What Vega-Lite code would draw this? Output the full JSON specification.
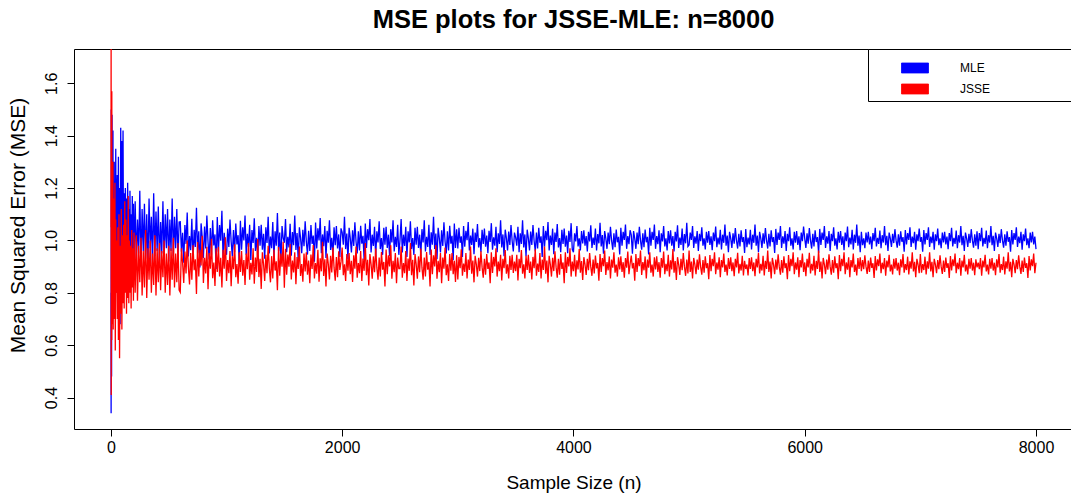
{
"$schema":"https://vega.github.io/schema/vega-lite/v6.json",
"width":999,"height":380,
"autosize":{"type":"none"},
"padding":{"left":74,"top":49,"right":0,"bottom":66},
"background":"white",
"title":{"text":"MSE plots for JSSE-MLE: n=8000","font":"Liberation Sans","fontSize":25.5,"fontWeight":"bold","color":"black","anchor":"middle","frame":"group","baseline":"alphabetic","offset":-5},
"config":{"view":{"stroke":"black","strokeWidth":1},"font":"Liberation Sans"},
"data":{"values":[
{"n":1,"MLE":0.80,"JSSE":1.05},{"n":2,"MLE":0.34,"JSSE":1.75},{"n":3,"MLE":1.50,"JSSE":0.41},{"n":4,"MLE":0.66,"JSSE":1.51},{"n":5,"MLE":1.20,"JSSE":0.72},{"n":6,"MLE":0.48,"JSSE":1.15},{"n":7,"MLE":1.05,"JSSE":0.62},{"n":8,"MLE":1.30,"JSSE":1.57},{"n":9,"MLE":0.72,"JSSE":0.80},{"n":10,"MLE":1.48,"JSSE":1.20},
{"n":12,"MLE":0.85,"JSSE":0.68},{"n":14,"MLE":1.28,"JSSE":1.10},{"n":16,"MLE":0.95,"JSSE":0.75},{"n":18,"MLE":1.42,"JSSE":1.30},{"n":20,"MLE":0.70,"JSSE":0.66},{"n":23,"MLE":1.22,"JSSE":1.16},{"n":26,"MLE":0.88,"JSSE":0.70},{"n":29,"MLE":1.30,"JSSE":1.05},{"n":32,"MLE":0.75,"JSSE":0.78},{"n":35,"MLE":1.18,"JSSE":1.22},{"n":38,"MLE":0.92,"JSSE":0.58},{"n":42,"MLE":1.35,"JSSE":1.08},{"n":46,"MLE":0.80,"JSSE":0.80},{"n":50,"MLE":1.15,"JSSE":1.00},
{"n":55,"MLE":1.25,"JSSE":0.70},{"n":60,"MLE":0.85,"JSSE":1.05},{"n":65,"MLE":1.32,"JSSE":0.62},{"n":70,"MLE":0.78,"JSSE":1.10},{"n":75,"MLE":1.20,"JSSE":0.55},{"n":80,"MLE":0.68,"JSSE":0.98},{"n":85,"MLE":1.43,"JSSE":0.72},{"n":90,"MLE":0.82,"JSSE":1.12},{"n":95,"MLE":1.38,"JSSE":0.66},{"n":100,"MLE":0.90,"JSSE":1.02},
{"n":105,"MLE":1.42,"JSSE":0.76},{"n":110,"MLE":0.88,"JSSE":1.06},{"n":115,"MLE":1.18,"JSSE":0.74},{"n":120,"MLE":0.92,"JSSE":1.15},{"n":125,"MLE":1.20,"JSSE":0.80},{"n":130,"MLE":0.86,"JSSE":1.08},{"n":135,"MLE":1.16,"JSSE":0.72},{"n":140,"MLE":0.95,"JSSE":1.02},{"n":145,"MLE":1.22,"JSSE":0.78},{"n":150,"MLE":0.90,"JSSE":1.17},
{"n":155,"MLE":1.12,"JSSE":0.76},{"n":160,"MLE":0.87,"JSSE":1.00},{"n":165,"MLE":1.19,"JSSE":0.80},{"n":170,"MLE":0.93,"JSSE":0.98},{"n":175,"MLE":1.10,"JSSE":0.74},{"n":180,"MLE":0.89,"JSSE":1.04},{"n":185,"MLE":1.17,"JSSE":0.82},{"n":190,"MLE":0.95,"JSSE":0.97},{"n":195,"MLE":1.14,"JSSE":0.77},{"n":200,"MLE":0.91,"JSSE":1.03},
{"n":210,"MLE":1.15,"JSSE":0.80},{"n":220,"MLE":0.92,"JSSE":1.02},{"n":230,"MLE":1.08,"JSSE":0.77},{"n":240,"MLE":0.95,"JSSE":0.98},{"n":250,"MLE":1.19,"JSSE":0.84},{"n":260,"MLE":0.90,"JSSE":1.01},{"n":270,"MLE":1.12,"JSSE":0.79},{"n":280,"MLE":0.96,"JSSE":0.96},{"n":290,"MLE":1.14,"JSSE":0.82},{"n":300,"MLE":0.93,"JSSE":1.04},
{"n":310,"MLE":1.10,"JSSE":0.78},{"n":320,"MLE":0.89,"JSSE":0.97},{"n":330,"MLE":1.16,"JSSE":0.85},{"n":340,"MLE":0.97,"JSSE":1.00},{"n":350,"MLE":1.09,"JSSE":0.80},{"n":360,"MLE":0.91,"JSSE":0.95},{"n":370,"MLE":1.18,"JSSE":0.83},{"n":380,"MLE":0.94,"JSSE":1.02},{"n":390,"MLE":1.11,"JSSE":0.79},{"n":400,"MLE":0.96,"JSSE":0.97},
{"n":410,"MLE":1.13,"JSSE":0.84},{"n":420,"MLE":0.92,"JSSE":0.99},{"n":430,"MLE":1.07,"JSSE":0.81},{"n":440,"MLE":0.95,"JSSE":0.96},{"n":450,"MLE":1.15,"JSSE":0.86},{"n":460,"MLE":0.93,"JSSE":1.00},{"n":470,"MLE":1.10,"JSSE":0.80},{"n":480,"MLE":0.97,"JSSE":0.95},{"n":490,"MLE":1.12,"JSSE":0.83},{"n":500,"MLE":0.92,"JSSE":0.98},
{"n":510,"MLE":1.08,"JSSE":0.79},{"n":520,"MLE":0.96,"JSSE":0.97},{"n":530,"MLE":1.16,"JSSE":0.85},{"n":540,"MLE":0.94,"JSSE":1.01},{"n":550,"MLE":1.09,"JSSE":0.82},{"n":560,"MLE":0.97,"JSSE":0.95},{"n":570,"MLE":1.12,"JSSE":0.84},{"n":580,"MLE":0.93,"JSSE":0.99},{"n":590,"MLE":1.07,"JSSE":0.81},
{"n":600,"MLE":1.071,"JSSE":0.802},{"n":610,"MLE":0.957,"JSSE":0.970},{"n":620,"MLE":1.029,"JSSE":0.916},{"n":630,"MLE":0.915,"JSSE":0.838},{"n":640,"MLE":1.059,"JSSE":0.958},{"n":650,"MLE":0.987,"JSSE":0.874},{"n":660,"MLE":1.107,"JSSE":1.000},{"n":670,"MLE":0.939,"JSSE":0.898},{"n":680,"MLE":1.017,"JSSE":0.832},{"n":690,"MLE":0.963,"JSSE":0.952},
{"n":700,"MLE":1.083,"JSSE":0.850},{"n":710,"MLE":0.921,"JSSE":0.982},{"n":720,"MLE":1.041,"JSSE":0.886},{"n":730,"MLE":0.975,"JSSE":0.928},{"n":740,"MLE":1.125,"JSSE":0.796},{"n":750,"MLE":0.951,"JSSE":0.994},{"n":760,"MLE":1.035,"JSSE":0.862},{"n":770,"MLE":0.897,"JSSE":0.964},{"n":780,"MLE":1.065,"JSSE":0.904},{"n":790,"MLE":1.011,"JSSE":1.018},
{"n":800,"MLE":0.933,"JSSE":0.838},{"n":810,"MLE":1.053,"JSSE":0.934},{"n":820,"MLE":0.969,"JSSE":0.874},{"n":830,"MLE":1.095,"JSSE":0.976},{"n":840,"MLE":0.993,"JSSE":0.814},{"n":850,"MLE":0.927,"JSSE":0.952},{"n":860,"MLE":1.047,"JSSE":0.892},{"n":870,"MLE":0.945,"JSSE":1.006},{"n":880,"MLE":1.077,"JSSE":0.856},{"n":890,"MLE":0.981,"JSSE":0.916},
{"n":900,"MLE":1.023,"JSSE":0.826},{"n":910,"MLE":0.891,"JSSE":0.970},{"n":920,"MLE":1.089,"JSSE":0.880},{"n":930,"MLE":0.957,"JSSE":0.976},{"n":940,"MLE":1.059,"JSSE":0.862},{"n":950,"MLE":0.999,"JSSE":0.934},{"n":960,"MLE":1.113,"JSSE":0.820},{"n":970,"MLE":0.933,"JSSE":0.964},{"n":980,"MLE":1.029,"JSSE":0.892},{"n":990,"MLE":0.969,"JSSE":1.012},
{"n":1000,"MLE":0.945,"JSSE":0.845},{"n":1010,"MLE":1.045,"JSSE":0.925},{"n":1020,"MLE":0.975,"JSSE":0.875},{"n":1030,"MLE":1.080,"JSSE":0.960},{"n":1040,"MLE":0.995,"JSSE":0.825},{"n":1050,"MLE":0.940,"JSSE":0.940},{"n":1060,"MLE":1.040,"JSSE":0.890},{"n":1070,"MLE":0.955,"JSSE":0.985},{"n":1080,"MLE":1.065,"JSSE":0.860},{"n":1090,"MLE":0.985,"JSSE":0.910},
{"n":1100,"MLE":1.020,"JSSE":0.835},{"n":1110,"MLE":0.910,"JSSE":0.955},{"n":1120,"MLE":1.075,"JSSE":0.880},{"n":1130,"MLE":0.965,"JSSE":0.960},{"n":1140,"MLE":1.050,"JSSE":0.865},{"n":1150,"MLE":1.000,"JSSE":0.925},{"n":1160,"MLE":1.095,"JSSE":0.830},{"n":1170,"MLE":0.945,"JSSE":0.950},{"n":1180,"MLE":1.025,"JSSE":0.890},{"n":1190,"MLE":0.975,"JSSE":0.990},
{"n":1200,"MLE":1.060,"JSSE":0.850},{"n":1210,"MLE":0.925,"JSSE":0.915},{"n":1220,"MLE":1.040,"JSSE":0.870},{"n":1230,"MLE":0.990,"JSSE":0.970},{"n":1240,"MLE":1.085,"JSSE":0.835},{"n":1250,"MLE":0.960,"JSSE":0.935},{"n":1260,"MLE":1.010,"JSSE":0.880},{"n":1270,"MLE":0.935,"JSSE":1.005},{"n":1280,"MLE":1.055,"JSSE":0.860},{"n":1290,"MLE":0.980,"JSSE":0.930},
{"n":1300,"MLE":1.060,"JSSE":0.815},{"n":1310,"MLE":0.965,"JSSE":0.955},{"n":1320,"MLE":1.025,"JSSE":0.910},{"n":1330,"MLE":0.930,"JSSE":0.845},{"n":1340,"MLE":1.050,"JSSE":0.945},{"n":1350,"MLE":0.990,"JSSE":0.875},{"n":1360,"MLE":1.090,"JSSE":0.980},{"n":1370,"MLE":0.950,"JSSE":0.895},{"n":1380,"MLE":1.015,"JSSE":0.840},{"n":1390,"MLE":0.970,"JSSE":0.940},
{"n":1400,"MLE":1.070,"JSSE":0.855},{"n":1410,"MLE":0.935,"JSSE":0.965},{"n":1420,"MLE":1.035,"JSSE":0.885},{"n":1430,"MLE":0.980,"JSSE":0.920},{"n":1440,"MLE":1.105,"JSSE":0.810},{"n":1450,"MLE":0.960,"JSSE":0.975},{"n":1460,"MLE":1.030,"JSSE":0.865},{"n":1470,"MLE":0.915,"JSSE":0.950},{"n":1480,"MLE":1.055,"JSSE":0.900},{"n":1490,"MLE":1.010,"JSSE":0.995},
{"n":1500,"MLE":0.991,"JSSE":0.819},{"n":1510,"MLE":1.082,"JSSE":0.968},{"n":1520,"MLE":0.955,"JSSE":0.869},{"n":1530,"MLE":1.014,"JSSE":0.946},{"n":1540,"MLE":0.973,"JSSE":0.900},{"n":1550,"MLE":1.064,"JSSE":0.986},{"n":1560,"MLE":0.942,"JSSE":0.851},{"n":1570,"MLE":1.032,"JSSE":0.923},{"n":1580,"MLE":0.982,"JSSE":0.878},{"n":1590,"MLE":1.095,"JSSE":0.955},
{"n":1600,"MLE":0.964,"JSSE":0.833},{"n":1610,"MLE":1.028,"JSSE":0.937},{"n":1620,"MLE":0.924,"JSSE":0.891},{"n":1630,"MLE":1.050,"JSSE":0.977},{"n":1640,"MLE":1.010,"JSSE":0.864},{"n":1650,"MLE":0.951,"JSSE":0.910},{"n":1660,"MLE":1.041,"JSSE":0.842},{"n":1670,"MLE":0.978,"JSSE":0.950},{"n":1680,"MLE":1.073,"JSSE":0.882},{"n":1690,"MLE":0.996,"JSSE":0.955},
{"n":1700,"MLE":0.946,"JSSE":0.869},{"n":1710,"MLE":1.037,"JSSE":0.923},{"n":1720,"MLE":0.960,"JSSE":0.837},{"n":1730,"MLE":1.059,"JSSE":0.946},{"n":1740,"MLE":0.987,"JSSE":0.891},{"n":1750,"MLE":1.019,"JSSE":0.982},{"n":1760,"MLE":0.919,"JSSE":0.855},{"n":1770,"MLE":1.068,"JSSE":0.914},{"n":1780,"MLE":0.969,"JSSE":0.873},{"n":1790,"MLE":1.046,"JSSE":0.964},
{"n":1800,"MLE":1.000,"JSSE":0.842},{"n":1810,"MLE":1.086,"JSSE":0.932},{"n":1820,"MLE":0.951,"JSSE":0.882},{"n":1830,"MLE":1.023,"JSSE":0.995},{"n":1840,"MLE":0.978,"JSSE":0.864},{"n":1850,"MLE":1.055,"JSSE":0.928},{"n":1860,"MLE":0.933,"JSSE":0.824},{"n":1870,"MLE":1.037,"JSSE":0.950},{"n":1880,"MLE":0.991,"JSSE":0.910},{"n":1890,"MLE":1.077,"JSSE":0.851},
{"n":1900,"MLE":0.964,"JSSE":0.941},{"n":1910,"MLE":1.010,"JSSE":0.878},{"n":1920,"MLE":0.942,"JSSE":0.973},{"n":1930,"MLE":1.050,"JSSE":0.896},{"n":1940,"MLE":0.982,"JSSE":0.846},{"n":1950,"MLE":1.055,"JSSE":0.937},{"n":1960,"MLE":0.969,"JSSE":0.860},{"n":1970,"MLE":1.023,"JSSE":0.959},{"n":1980,"MLE":0.937,"JSSE":0.887},{"n":1990,"MLE":1.046,"JSSE":0.919},
{"n":2000,"MLE":1.031,"JSSE":0.973},{"n":2010,"MLE":0.984,"JSSE":0.867},{"n":2020,"MLE":1.090,"JSSE":0.909},{"n":2030,"MLE":0.967,"JSSE":0.845},{"n":2040,"MLE":1.026,"JSSE":0.948},{"n":2050,"MLE":0.928,"JSSE":0.884},{"n":2060,"MLE":1.048,"JSSE":0.952},{"n":2070,"MLE":1.009,"JSSE":0.871},{"n":2080,"MLE":0.954,"JSSE":0.922},{"n":2090,"MLE":1.039,"JSSE":0.841},
{"n":2100,"MLE":0.979,"JSSE":0.943},{"n":2110,"MLE":1.069,"JSSE":0.892},{"n":2120,"MLE":0.996,"JSSE":0.977},{"n":2130,"MLE":0.950,"JSSE":0.858},{"n":2140,"MLE":1.035,"JSSE":0.914},{"n":2150,"MLE":0.962,"JSSE":0.875},{"n":2160,"MLE":1.056,"JSSE":0.960},{"n":2170,"MLE":0.988,"JSSE":0.845},{"n":2180,"MLE":1.018,"JSSE":0.931},{"n":2190,"MLE":0.924,"JSSE":0.884},
{"n":2200,"MLE":1.065,"JSSE":0.990},{"n":2210,"MLE":0.971,"JSSE":0.867},{"n":2220,"MLE":1.043,"JSSE":0.926},{"n":2230,"MLE":1.001,"JSSE":0.828},{"n":2240,"MLE":1.082,"JSSE":0.948},{"n":2250,"MLE":0.954,"JSSE":0.909},{"n":2260,"MLE":1.022,"JSSE":0.854},{"n":2270,"MLE":0.979,"JSSE":0.939},{"n":2280,"MLE":1.052,"JSSE":0.879},{"n":2290,"MLE":0.937,"JSSE":0.969},
{"n":2300,"MLE":1.035,"JSSE":0.896},{"n":2310,"MLE":0.992,"JSSE":0.850},{"n":2320,"MLE":1.073,"JSSE":0.935},{"n":2330,"MLE":0.967,"JSSE":0.862},{"n":2340,"MLE":1.009,"JSSE":0.956},{"n":2350,"MLE":0.945,"JSSE":0.888},{"n":2360,"MLE":1.048,"JSSE":0.918},{"n":2370,"MLE":0.984,"JSSE":0.824},{"n":2380,"MLE":1.052,"JSSE":0.965},{"n":2390,"MLE":0.971,"JSSE":0.871},
{"n":2400,"MLE":1.022,"JSSE":0.943},{"n":2410,"MLE":0.941,"JSSE":0.901},{"n":2420,"MLE":1.043,"JSSE":0.982},{"n":2430,"MLE":0.992,"JSSE":0.854},{"n":2440,"MLE":1.077,"JSSE":0.922},{"n":2450,"MLE":0.958,"JSSE":0.879},{"n":2460,"MLE":1.014,"JSSE":0.952},{"n":2470,"MLE":0.975,"JSSE":0.837},{"n":2480,"MLE":1.060,"JSSE":0.935},{"n":2490,"MLE":0.945,"JSSE":0.892},
{"n":2500,"MLE":1.001,"JSSE":0.892},{"n":2510,"MLE":1.082,"JSSE":0.977},{"n":2520,"MLE":0.954,"JSSE":0.858},{"n":2530,"MLE":1.022,"JSSE":0.914},{"n":2540,"MLE":0.979,"JSSE":0.875},{"n":2550,"MLE":1.052,"JSSE":0.960},{"n":2560,"MLE":0.937,"JSSE":0.845},{"n":2570,"MLE":1.035,"JSSE":0.931},{"n":2580,"MLE":0.992,"JSSE":0.884},{"n":2590,"MLE":1.073,"JSSE":0.990},
{"n":2600,"MLE":0.967,"JSSE":0.867},{"n":2610,"MLE":1.009,"JSSE":0.926},{"n":2620,"MLE":0.945,"JSSE":0.828},{"n":2630,"MLE":1.048,"JSSE":0.948},{"n":2640,"MLE":0.984,"JSSE":0.909},{"n":2650,"MLE":1.052,"JSSE":0.854},{"n":2660,"MLE":0.971,"JSSE":0.939},{"n":2670,"MLE":1.022,"JSSE":0.879},{"n":2680,"MLE":0.941,"JSSE":0.969},{"n":2690,"MLE":1.043,"JSSE":0.896},
{"n":2700,"MLE":0.992,"JSSE":0.850},{"n":2710,"MLE":1.077,"JSSE":0.935},{"n":2720,"MLE":0.958,"JSSE":0.862},{"n":2730,"MLE":1.014,"JSSE":0.956},{"n":2740,"MLE":0.975,"JSSE":0.888},{"n":2750,"MLE":1.060,"JSSE":0.918},{"n":2760,"MLE":0.945,"JSSE":0.824},{"n":2770,"MLE":1.031,"JSSE":0.965},{"n":2780,"MLE":0.984,"JSSE":0.871},{"n":2790,"MLE":1.090,"JSSE":0.943},
{"n":2800,"MLE":0.967,"JSSE":0.901},{"n":2810,"MLE":1.026,"JSSE":0.982},{"n":2820,"MLE":0.928,"JSSE":0.854},{"n":2830,"MLE":1.048,"JSSE":0.922},{"n":2840,"MLE":1.009,"JSSE":0.879},{"n":2850,"MLE":0.954,"JSSE":0.952},{"n":2860,"MLE":1.039,"JSSE":0.837},{"n":2870,"MLE":0.979,"JSSE":0.935},{"n":2880,"MLE":1.069,"JSSE":0.892},{"n":2890,"MLE":0.996,"JSSE":0.973},
{"n":2900,"MLE":0.950,"JSSE":0.867},{"n":2910,"MLE":1.035,"JSSE":0.909},{"n":2920,"MLE":0.962,"JSSE":0.845},{"n":2930,"MLE":1.056,"JSSE":0.948},{"n":2940,"MLE":0.988,"JSSE":0.884},{"n":2950,"MLE":1.018,"JSSE":0.952},{"n":2960,"MLE":0.924,"JSSE":0.871},{"n":2970,"MLE":1.065,"JSSE":0.922},{"n":2980,"MLE":0.971,"JSSE":0.841},{"n":2990,"MLE":1.043,"JSSE":0.943},
{"n":3000,"MLE":0.969,"JSSE":0.851},{"n":3010,"MLE":1.048,"JSSE":0.937},{"n":3020,"MLE":0.991,"JSSE":0.894},{"n":3030,"MLE":1.016,"JSSE":0.966},{"n":3040,"MLE":0.937,"JSSE":0.865},{"n":3050,"MLE":1.055,"JSSE":0.912},{"n":3060,"MLE":0.976,"JSSE":0.880},{"n":3070,"MLE":1.037,"JSSE":0.952},{"n":3080,"MLE":1.001,"JSSE":0.855},{"n":3090,"MLE":1.070,"JSSE":0.927},
{"n":3100,"MLE":0.962,"JSSE":0.887},{"n":3110,"MLE":1.019,"JSSE":0.977},{"n":3120,"MLE":0.983,"JSSE":0.873},{"n":3130,"MLE":1.045,"JSSE":0.923},{"n":3140,"MLE":0.947,"JSSE":0.840},{"n":3150,"MLE":1.030,"JSSE":0.941},{"n":3160,"MLE":0.994,"JSSE":0.909},{"n":3170,"MLE":1.063,"JSSE":0.862},{"n":3180,"MLE":0.973,"JSSE":0.934},{"n":3190,"MLE":1.009,"JSSE":0.883},
{"n":3200,"MLE":0.955,"JSSE":0.959},{"n":3210,"MLE":1.041,"JSSE":0.898},{"n":3220,"MLE":0.987,"JSSE":0.858},{"n":3230,"MLE":1.045,"JSSE":0.930},{"n":3240,"MLE":0.976,"JSSE":0.869},{"n":3250,"MLE":1.019,"JSSE":0.948},{"n":3260,"MLE":0.951,"JSSE":0.891},{"n":3270,"MLE":1.037,"JSSE":0.916},{"n":3280,"MLE":0.994,"JSSE":0.837},{"n":3290,"MLE":1.066,"JSSE":0.955},
{"n":3300,"MLE":0.965,"JSSE":0.876},{"n":3310,"MLE":1.012,"JSSE":0.937},{"n":3320,"MLE":0.980,"JSSE":0.901},{"n":3330,"MLE":1.052,"JSSE":0.970},{"n":3340,"MLE":0.955,"JSSE":0.862},{"n":3350,"MLE":1.027,"JSSE":0.919},{"n":3360,"MLE":0.987,"JSSE":0.883},{"n":3370,"MLE":1.077,"JSSE":0.945},{"n":3380,"MLE":0.973,"JSSE":0.847},{"n":3390,"MLE":1.023,"JSSE":0.930},
{"n":3400,"MLE":0.940,"JSSE":0.894},{"n":3410,"MLE":1.041,"JSSE":0.963},{"n":3420,"MLE":1.009,"JSSE":0.873},{"n":3430,"MLE":0.962,"JSSE":0.909},{"n":3440,"MLE":1.034,"JSSE":0.855},{"n":3450,"MLE":0.983,"JSSE":0.941},{"n":3460,"MLE":1.059,"JSSE":0.887},{"n":3470,"MLE":0.998,"JSSE":0.945},{"n":3480,"MLE":0.958,"JSSE":0.876},{"n":3490,"MLE":1.030,"JSSE":0.919},
{"n":3500,"MLE":1.012,"JSSE":0.883},{"n":3510,"MLE":0.980,"JSSE":0.945},{"n":3520,"MLE":1.052,"JSSE":0.847},{"n":3530,"MLE":0.955,"JSSE":0.930},{"n":3540,"MLE":1.027,"JSSE":0.894},{"n":3550,"MLE":0.987,"JSSE":0.963},{"n":3560,"MLE":1.077,"JSSE":0.873},{"n":3570,"MLE":0.973,"JSSE":0.909},{"n":3580,"MLE":1.023,"JSSE":0.855},{"n":3590,"MLE":0.940,"JSSE":0.941},
{"n":3600,"MLE":1.041,"JSSE":0.887},{"n":3610,"MLE":1.009,"JSSE":0.945},{"n":3620,"MLE":0.962,"JSSE":0.876},{"n":3630,"MLE":1.034,"JSSE":0.919},{"n":3640,"MLE":0.983,"JSSE":0.851},{"n":3650,"MLE":1.059,"JSSE":0.937},{"n":3660,"MLE":0.998,"JSSE":0.894},{"n":3670,"MLE":0.958,"JSSE":0.966},{"n":3680,"MLE":1.030,"JSSE":0.865},{"n":3690,"MLE":0.969,"JSSE":0.912},
{"n":3700,"MLE":1.048,"JSSE":0.880},{"n":3710,"MLE":0.991,"JSSE":0.952},{"n":3720,"MLE":1.016,"JSSE":0.855},{"n":3730,"MLE":0.937,"JSSE":0.927},{"n":3740,"MLE":1.055,"JSSE":0.887},{"n":3750,"MLE":0.976,"JSSE":0.977},{"n":3760,"MLE":1.037,"JSSE":0.873},{"n":3770,"MLE":1.001,"JSSE":0.923},{"n":3780,"MLE":1.070,"JSSE":0.840},{"n":3790,"MLE":0.962,"JSSE":0.941},
{"n":3800,"MLE":1.019,"JSSE":0.909},{"n":3810,"MLE":0.983,"JSSE":0.862},{"n":3820,"MLE":1.045,"JSSE":0.934},{"n":3830,"MLE":0.947,"JSSE":0.883},{"n":3840,"MLE":1.030,"JSSE":0.959},{"n":3850,"MLE":0.994,"JSSE":0.898},{"n":3860,"MLE":1.063,"JSSE":0.858},{"n":3870,"MLE":0.973,"JSSE":0.930},{"n":3880,"MLE":1.009,"JSSE":0.869},{"n":3890,"MLE":0.955,"JSSE":0.948},
{"n":3900,"MLE":1.041,"JSSE":0.891},{"n":3910,"MLE":0.987,"JSSE":0.916},{"n":3920,"MLE":1.045,"JSSE":0.837},{"n":3930,"MLE":0.976,"JSSE":0.955},{"n":3940,"MLE":1.019,"JSSE":0.876},{"n":3950,"MLE":0.951,"JSSE":0.937},{"n":3960,"MLE":1.037,"JSSE":0.901},{"n":3970,"MLE":0.994,"JSSE":0.970},{"n":3980,"MLE":1.066,"JSSE":0.862},{"n":3990,"MLE":0.965,"JSSE":0.919},
{"n":4000,"MLE":0.955,"JSSE":0.883},{"n":4010,"MLE":1.027,"JSSE":0.945},{"n":4020,"MLE":0.996,"JSSE":0.862},{"n":4030,"MLE":1.055,"JSSE":0.924},{"n":4040,"MLE":0.977,"JSSE":0.889},{"n":4050,"MLE":1.008,"JSSE":0.967},{"n":4060,"MLE":0.962,"JSSE":0.877},{"n":4070,"MLE":1.036,"JSSE":0.921},{"n":4080,"MLE":0.989,"JSSE":0.849},{"n":4090,"MLE":1.039,"JSSE":0.936},
{"n":4100,"MLE":0.980,"JSSE":0.908},{"n":4110,"MLE":1.017,"JSSE":0.868},{"n":4120,"MLE":0.958,"JSSE":0.930},{"n":4130,"MLE":1.033,"JSSE":0.886},{"n":4140,"MLE":0.996,"JSSE":0.952},{"n":4150,"MLE":1.058,"JSSE":0.899},{"n":4160,"MLE":0.971,"JSSE":0.865},{"n":4170,"MLE":1.011,"JSSE":0.927},{"n":4180,"MLE":0.983,"JSSE":0.874},{"n":4190,"MLE":1.045,"JSSE":0.942},
{"n":4200,"MLE":0.962,"JSSE":0.893},{"n":4210,"MLE":1.024,"JSSE":0.914},{"n":4220,"MLE":0.989,"JSSE":0.846},{"n":4230,"MLE":1.067,"JSSE":0.948},{"n":4240,"MLE":0.977,"JSSE":0.880},{"n":4250,"MLE":1.021,"JSSE":0.933},{"n":4260,"MLE":0.949,"JSSE":0.902},{"n":4270,"MLE":1.036,"JSSE":0.961},{"n":4280,"MLE":1.008,"JSSE":0.868},{"n":4290,"MLE":0.968,"JSSE":0.917},
{"n":4300,"MLE":1.030,"JSSE":0.886},{"n":4310,"MLE":0.986,"JSSE":0.939},{"n":4320,"MLE":1.052,"JSSE":0.855},{"n":4330,"MLE":0.999,"JSSE":0.927},{"n":4340,"MLE":0.965,"JSSE":0.896},{"n":4350,"MLE":1.027,"JSSE":0.955},{"n":4360,"MLE":0.974,"JSSE":0.877},{"n":4370,"MLE":1.042,"JSSE":0.908},{"n":4380,"MLE":0.993,"JSSE":0.862},{"n":4390,"MLE":1.014,"JSSE":0.936},
{"n":4400,"MLE":0.946,"JSSE":0.889},{"n":4410,"MLE":1.048,"JSSE":0.939},{"n":4420,"MLE":0.980,"JSSE":0.880},{"n":4430,"MLE":1.033,"JSSE":0.917},{"n":4440,"MLE":1.002,"JSSE":0.858},{"n":4450,"MLE":1.061,"JSSE":0.933},{"n":4460,"MLE":0.968,"JSSE":0.896},{"n":4470,"MLE":1.017,"JSSE":0.958},{"n":4480,"MLE":0.986,"JSSE":0.871},{"n":4490,"MLE":1.039,"JSSE":0.911},
{"n":4500,"MLE":1.021,"JSSE":0.942},{"n":4510,"MLE":0.949,"JSSE":0.893},{"n":4520,"MLE":1.036,"JSSE":0.914},{"n":4530,"MLE":1.008,"JSSE":0.846},{"n":4540,"MLE":0.968,"JSSE":0.948},{"n":4550,"MLE":1.030,"JSSE":0.880},{"n":4560,"MLE":0.986,"JSSE":0.933},{"n":4570,"MLE":1.052,"JSSE":0.902},{"n":4580,"MLE":0.999,"JSSE":0.961},{"n":4590,"MLE":0.965,"JSSE":0.868},
{"n":4600,"MLE":1.027,"JSSE":0.917},{"n":4610,"MLE":0.974,"JSSE":0.886},{"n":4620,"MLE":1.042,"JSSE":0.939},{"n":4630,"MLE":0.993,"JSSE":0.855},{"n":4640,"MLE":1.014,"JSSE":0.927},{"n":4650,"MLE":0.946,"JSSE":0.896},{"n":4660,"MLE":1.048,"JSSE":0.955},{"n":4670,"MLE":0.980,"JSSE":0.877},{"n":4680,"MLE":1.033,"JSSE":0.908},{"n":4690,"MLE":1.002,"JSSE":0.862},
{"n":4700,"MLE":1.061,"JSSE":0.936},{"n":4710,"MLE":0.968,"JSSE":0.889},{"n":4720,"MLE":1.017,"JSSE":0.939},{"n":4730,"MLE":0.986,"JSSE":0.880},{"n":4740,"MLE":1.039,"JSSE":0.917},{"n":4750,"MLE":0.955,"JSSE":0.858},{"n":4760,"MLE":1.027,"JSSE":0.933},{"n":4770,"MLE":0.996,"JSSE":0.896},{"n":4780,"MLE":1.055,"JSSE":0.958},{"n":4790,"MLE":0.977,"JSSE":0.871},
{"n":4800,"MLE":1.008,"JSSE":0.911},{"n":4810,"MLE":0.962,"JSSE":0.883},{"n":4820,"MLE":1.036,"JSSE":0.945},{"n":4830,"MLE":0.989,"JSSE":0.862},{"n":4840,"MLE":1.039,"JSSE":0.924},{"n":4850,"MLE":0.980,"JSSE":0.889},{"n":4860,"MLE":1.017,"JSSE":0.967},{"n":4870,"MLE":0.958,"JSSE":0.877},{"n":4880,"MLE":1.033,"JSSE":0.921},{"n":4890,"MLE":0.996,"JSSE":0.849},
{"n":4900,"MLE":1.058,"JSSE":0.936},{"n":4910,"MLE":0.971,"JSSE":0.908},{"n":4920,"MLE":1.011,"JSSE":0.868},{"n":4930,"MLE":0.983,"JSSE":0.930},{"n":4940,"MLE":1.045,"JSSE":0.886},{"n":4950,"MLE":0.962,"JSSE":0.952},{"n":4960,"MLE":1.024,"JSSE":0.899},{"n":4970,"MLE":0.989,"JSSE":0.865},{"n":4980,"MLE":1.067,"JSSE":0.927},{"n":4990,"MLE":0.977,"JSSE":0.874},
{"n":5000,"MLE":0.983,"JSSE":0.961},{"n":5010,"MLE":1.030,"JSSE":0.880},{"n":5020,"MLE":1.002,"JSSE":0.919},{"n":5030,"MLE":1.055,"JSSE":0.855},{"n":5040,"MLE":0.971,"JSSE":0.933},{"n":5050,"MLE":1.016,"JSSE":0.908},{"n":5060,"MLE":0.988,"JSSE":0.871},{"n":5070,"MLE":1.036,"JSSE":0.927},{"n":5080,"MLE":0.960,"JSSE":0.888},{"n":5090,"MLE":1.025,"JSSE":0.947},
{"n":5100,"MLE":0.997,"JSSE":0.899},{"n":5110,"MLE":1.050,"JSSE":0.869},{"n":5120,"MLE":0.980,"JSSE":0.925},{"n":5130,"MLE":1.008,"JSSE":0.877},{"n":5140,"MLE":0.966,"JSSE":0.939},{"n":5150,"MLE":1.033,"JSSE":0.894},{"n":5160,"MLE":0.991,"JSSE":0.913},{"n":5170,"MLE":1.036,"JSSE":0.852},{"n":5180,"MLE":0.983,"JSSE":0.944},{"n":5190,"MLE":1.016,"JSSE":0.883},
{"n":5200,"MLE":0.963,"JSSE":0.930},{"n":5210,"MLE":1.030,"JSSE":0.902},{"n":5220,"MLE":0.997,"JSSE":0.955},{"n":5230,"MLE":1.053,"JSSE":0.871},{"n":5240,"MLE":0.974,"JSSE":0.916},{"n":5250,"MLE":1.011,"JSSE":0.888},{"n":5260,"MLE":0.985,"JSSE":0.936},{"n":5270,"MLE":1.041,"JSSE":0.860},{"n":5280,"MLE":0.966,"JSSE":0.925},{"n":5290,"MLE":1.022,"JSSE":0.897},
{"n":5300,"MLE":0.991,"JSSE":0.950},{"n":5310,"MLE":1.061,"JSSE":0.880},{"n":5320,"MLE":0.980,"JSSE":0.908},{"n":5330,"MLE":1.019,"JSSE":0.866},{"n":5340,"MLE":0.955,"JSSE":0.933},{"n":5350,"MLE":1.033,"JSSE":0.891},{"n":5360,"MLE":1.008,"JSSE":0.936},{"n":5370,"MLE":0.971,"JSSE":0.883},{"n":5380,"MLE":1.027,"JSSE":0.916},{"n":5390,"MLE":0.988,"JSSE":0.863},
{"n":5400,"MLE":1.047,"JSSE":0.930},{"n":5410,"MLE":0.999,"JSSE":0.897},{"n":5420,"MLE":0.969,"JSSE":0.953},{"n":5430,"MLE":1.025,"JSSE":0.874},{"n":5440,"MLE":0.977,"JSSE":0.911},{"n":5450,"MLE":1.039,"JSSE":0.885},{"n":5460,"MLE":0.994,"JSSE":0.941},{"n":5470,"MLE":1.013,"JSSE":0.866},{"n":5480,"MLE":0.952,"JSSE":0.922},{"n":5490,"MLE":1.044,"JSSE":0.891},
{"n":5500,"MLE":0.974,"JSSE":0.908},{"n":5510,"MLE":1.011,"JSSE":0.866},{"n":5520,"MLE":0.985,"JSSE":0.933},{"n":5530,"MLE":1.041,"JSSE":0.891},{"n":5540,"MLE":0.966,"JSSE":0.936},{"n":5550,"MLE":1.022,"JSSE":0.883},{"n":5560,"MLE":0.991,"JSSE":0.916},{"n":5570,"MLE":1.061,"JSSE":0.863},{"n":5580,"MLE":0.980,"JSSE":0.930},{"n":5590,"MLE":1.019,"JSSE":0.897},
{"n":5600,"MLE":0.955,"JSSE":0.953},{"n":5610,"MLE":1.033,"JSSE":0.874},{"n":5620,"MLE":1.008,"JSSE":0.911},{"n":5630,"MLE":0.971,"JSSE":0.885},{"n":5640,"MLE":1.027,"JSSE":0.941},{"n":5650,"MLE":0.988,"JSSE":0.866},{"n":5660,"MLE":1.047,"JSSE":0.922},{"n":5670,"MLE":0.999,"JSSE":0.891},{"n":5680,"MLE":0.969,"JSSE":0.961},{"n":5690,"MLE":1.025,"JSSE":0.880},
{"n":5700,"MLE":0.977,"JSSE":0.919},{"n":5710,"MLE":1.039,"JSSE":0.855},{"n":5720,"MLE":0.994,"JSSE":0.933},{"n":5730,"MLE":1.013,"JSSE":0.908},{"n":5740,"MLE":0.952,"JSSE":0.871},{"n":5750,"MLE":1.044,"JSSE":0.927},{"n":5760,"MLE":0.983,"JSSE":0.888},{"n":5770,"MLE":1.030,"JSSE":0.947},{"n":5780,"MLE":1.002,"JSSE":0.899},{"n":5790,"MLE":1.055,"JSSE":0.869},
{"n":5800,"MLE":0.971,"JSSE":0.925},{"n":5810,"MLE":1.016,"JSSE":0.877},{"n":5820,"MLE":0.988,"JSSE":0.939},{"n":5830,"MLE":1.036,"JSSE":0.894},{"n":5840,"MLE":0.960,"JSSE":0.913},{"n":5850,"MLE":1.025,"JSSE":0.852},{"n":5860,"MLE":0.997,"JSSE":0.944},{"n":5870,"MLE":1.050,"JSSE":0.883},{"n":5880,"MLE":0.980,"JSSE":0.930},{"n":5890,"MLE":1.008,"JSSE":0.902},
{"n":5900,"MLE":0.966,"JSSE":0.955},{"n":5910,"MLE":1.033,"JSSE":0.871},{"n":5920,"MLE":0.991,"JSSE":0.916},{"n":5930,"MLE":1.036,"JSSE":0.888},{"n":5940,"MLE":0.983,"JSSE":0.936},{"n":5950,"MLE":1.016,"JSSE":0.860},{"n":5960,"MLE":0.963,"JSSE":0.925},{"n":5970,"MLE":1.030,"JSSE":0.897},{"n":5980,"MLE":0.997,"JSSE":0.950},{"n":5990,"MLE":1.053,"JSSE":0.880},
{"n":6000,"MLE":1.008,"JSSE":0.916},{"n":6010,"MLE":0.971,"JSSE":0.863},{"n":6020,"MLE":1.027,"JSSE":0.930},{"n":6030,"MLE":0.988,"JSSE":0.897},{"n":6040,"MLE":1.047,"JSSE":0.953},{"n":6050,"MLE":0.999,"JSSE":0.874},{"n":6060,"MLE":0.969,"JSSE":0.911},{"n":6070,"MLE":1.025,"JSSE":0.885},{"n":6080,"MLE":0.977,"JSSE":0.941},{"n":6090,"MLE":1.039,"JSSE":0.866},
{"n":6100,"MLE":0.994,"JSSE":0.922},{"n":6110,"MLE":1.013,"JSSE":0.891},{"n":6120,"MLE":0.952,"JSSE":0.961},{"n":6130,"MLE":1.044,"JSSE":0.880},{"n":6140,"MLE":0.983,"JSSE":0.919},{"n":6150,"MLE":1.030,"JSSE":0.855},{"n":6160,"MLE":1.002,"JSSE":0.933},{"n":6170,"MLE":1.055,"JSSE":0.908},{"n":6180,"MLE":0.971,"JSSE":0.871},{"n":6190,"MLE":1.016,"JSSE":0.927},
{"n":6200,"MLE":0.988,"JSSE":0.888},{"n":6210,"MLE":1.036,"JSSE":0.947},{"n":6220,"MLE":0.960,"JSSE":0.899},{"n":6230,"MLE":1.025,"JSSE":0.869},{"n":6240,"MLE":0.997,"JSSE":0.925},{"n":6250,"MLE":1.050,"JSSE":0.877},{"n":6260,"MLE":0.980,"JSSE":0.939},{"n":6270,"MLE":1.008,"JSSE":0.894},{"n":6280,"MLE":0.966,"JSSE":0.913},{"n":6290,"MLE":1.033,"JSSE":0.852},
{"n":6300,"MLE":0.991,"JSSE":0.944},{"n":6310,"MLE":1.036,"JSSE":0.883},{"n":6320,"MLE":0.983,"JSSE":0.930},{"n":6330,"MLE":1.016,"JSSE":0.902},{"n":6340,"MLE":0.963,"JSSE":0.955},{"n":6350,"MLE":1.030,"JSSE":0.871},{"n":6360,"MLE":0.997,"JSSE":0.916},{"n":6370,"MLE":1.053,"JSSE":0.888},{"n":6380,"MLE":0.974,"JSSE":0.936},{"n":6390,"MLE":1.011,"JSSE":0.860},
{"n":6400,"MLE":0.985,"JSSE":0.925},{"n":6410,"MLE":1.041,"JSSE":0.897},{"n":6420,"MLE":0.966,"JSSE":0.950},{"n":6430,"MLE":1.022,"JSSE":0.880},{"n":6440,"MLE":0.991,"JSSE":0.908},{"n":6450,"MLE":1.061,"JSSE":0.866},{"n":6460,"MLE":0.980,"JSSE":0.933},{"n":6470,"MLE":1.019,"JSSE":0.891},{"n":6480,"MLE":0.955,"JSSE":0.936},{"n":6490,"MLE":1.033,"JSSE":0.883},
{"n":6500,"MLE":0.982,"JSSE":0.925},{"n":6510,"MLE":1.008,"JSSE":0.890},{"n":6520,"MLE":0.970,"JSSE":0.943},{"n":6530,"MLE":1.030,"JSSE":0.900},{"n":6540,"MLE":0.992,"JSSE":0.872},{"n":6550,"MLE":1.033,"JSSE":0.923},{"n":6560,"MLE":0.985,"JSSE":0.880},{"n":6570,"MLE":1.015,"JSSE":0.935},{"n":6580,"MLE":0.967,"JSSE":0.895},{"n":6590,"MLE":1.028,"JSSE":0.913},
{"n":6600,"MLE":0.997,"JSSE":0.857},{"n":6610,"MLE":1.048,"JSSE":0.940},{"n":6620,"MLE":0.977,"JSSE":0.885},{"n":6630,"MLE":1.010,"JSSE":0.928},{"n":6640,"MLE":0.987,"JSSE":0.902},{"n":6650,"MLE":1.038,"JSSE":0.950},{"n":6660,"MLE":0.970,"JSSE":0.875},{"n":6670,"MLE":1.020,"JSSE":0.915},{"n":6680,"MLE":0.992,"JSSE":0.890},{"n":6690,"MLE":1.055,"JSSE":0.933},
{"n":6700,"MLE":0.982,"JSSE":0.865},{"n":6710,"MLE":1.018,"JSSE":0.923},{"n":6720,"MLE":0.960,"JSSE":0.897},{"n":6730,"MLE":1.030,"JSSE":0.945},{"n":6740,"MLE":1.008,"JSSE":0.882},{"n":6750,"MLE":0.975,"JSSE":0.908},{"n":6760,"MLE":1.025,"JSSE":0.870},{"n":6770,"MLE":0.990,"JSSE":0.930},{"n":6780,"MLE":1.043,"JSSE":0.892},{"n":6790,"MLE":1.000,"JSSE":0.933},
{"n":6800,"MLE":0.972,"JSSE":0.885},{"n":6810,"MLE":1.023,"JSSE":0.915},{"n":6820,"MLE":0.980,"JSSE":0.867},{"n":6830,"MLE":1.035,"JSSE":0.928},{"n":6840,"MLE":0.995,"JSSE":0.897},{"n":6850,"MLE":1.013,"JSSE":0.948},{"n":6860,"MLE":0.957,"JSSE":0.877},{"n":6870,"MLE":1.040,"JSSE":0.910},{"n":6880,"MLE":0.985,"JSSE":0.887},{"n":6890,"MLE":1.028,"JSSE":0.938},
{"n":6900,"MLE":1.002,"JSSE":0.870},{"n":6910,"MLE":1.050,"JSSE":0.920},{"n":6920,"MLE":0.975,"JSSE":0.892},{"n":6930,"MLE":1.015,"JSSE":0.955},{"n":6940,"MLE":0.990,"JSSE":0.882},{"n":6950,"MLE":1.033,"JSSE":0.918},{"n":6960,"MLE":0.965,"JSSE":0.860},{"n":6970,"MLE":1.023,"JSSE":0.930},{"n":6980,"MLE":0.997,"JSSE":0.908},{"n":6990,"MLE":1.045,"JSSE":0.875},
{"n":7000,"MLE":0.995,"JSSE":0.948},{"n":7010,"MLE":1.013,"JSSE":0.877},{"n":7020,"MLE":0.957,"JSSE":0.910},{"n":7030,"MLE":1.040,"JSSE":0.887},{"n":7040,"MLE":0.985,"JSSE":0.938},{"n":7050,"MLE":1.028,"JSSE":0.870},{"n":7060,"MLE":1.002,"JSSE":0.920},{"n":7070,"MLE":1.050,"JSSE":0.892},{"n":7080,"MLE":0.975,"JSSE":0.955},{"n":7090,"MLE":1.015,"JSSE":0.882},
{"n":7100,"MLE":0.990,"JSSE":0.918},{"n":7110,"MLE":1.033,"JSSE":0.860},{"n":7120,"MLE":0.965,"JSSE":0.930},{"n":7130,"MLE":1.023,"JSSE":0.908},{"n":7140,"MLE":0.997,"JSSE":0.875},{"n":7150,"MLE":1.045,"JSSE":0.925},{"n":7160,"MLE":0.982,"JSSE":0.890},{"n":7170,"MLE":1.008,"JSSE":0.943},{"n":7180,"MLE":0.970,"JSSE":0.900},{"n":7190,"MLE":1.030,"JSSE":0.872},
{"n":7200,"MLE":0.992,"JSSE":0.923},{"n":7210,"MLE":1.033,"JSSE":0.880},{"n":7220,"MLE":0.985,"JSSE":0.935},{"n":7230,"MLE":1.015,"JSSE":0.895},{"n":7240,"MLE":0.967,"JSSE":0.913},{"n":7250,"MLE":1.028,"JSSE":0.857},{"n":7260,"MLE":0.997,"JSSE":0.940},{"n":7270,"MLE":1.048,"JSSE":0.885},{"n":7280,"MLE":0.977,"JSSE":0.928},{"n":7290,"MLE":1.010,"JSSE":0.902},
{"n":7300,"MLE":0.987,"JSSE":0.950},{"n":7310,"MLE":1.038,"JSSE":0.875},{"n":7320,"MLE":0.970,"JSSE":0.915},{"n":7330,"MLE":1.020,"JSSE":0.890},{"n":7340,"MLE":0.992,"JSSE":0.933},{"n":7350,"MLE":1.055,"JSSE":0.865},{"n":7360,"MLE":0.982,"JSSE":0.923},{"n":7370,"MLE":1.018,"JSSE":0.897},{"n":7380,"MLE":0.960,"JSSE":0.945},{"n":7390,"MLE":1.030,"JSSE":0.882},
{"n":7400,"MLE":1.008,"JSSE":0.908},{"n":7410,"MLE":0.975,"JSSE":0.870},{"n":7420,"MLE":1.025,"JSSE":0.930},{"n":7430,"MLE":0.990,"JSSE":0.892},{"n":7440,"MLE":1.043,"JSSE":0.933},{"n":7450,"MLE":1.000,"JSSE":0.885},{"n":7460,"MLE":0.972,"JSSE":0.915},{"n":7470,"MLE":1.023,"JSSE":0.867},{"n":7480,"MLE":0.980,"JSSE":0.928},{"n":7490,"MLE":1.035,"JSSE":0.897},
{"n":7500,"MLE":0.967,"JSSE":0.915},{"n":7510,"MLE":1.028,"JSSE":0.890},{"n":7520,"MLE":0.997,"JSSE":0.933},{"n":7530,"MLE":1.048,"JSSE":0.865},{"n":7540,"MLE":0.977,"JSSE":0.923},{"n":7550,"MLE":1.010,"JSSE":0.897},{"n":7560,"MLE":0.987,"JSSE":0.945},{"n":7570,"MLE":1.038,"JSSE":0.882},{"n":7580,"MLE":0.970,"JSSE":0.908},{"n":7590,"MLE":1.020,"JSSE":0.870},
{"n":7600,"MLE":0.992,"JSSE":0.930},{"n":7610,"MLE":1.055,"JSSE":0.892},{"n":7620,"MLE":0.982,"JSSE":0.933},{"n":7630,"MLE":1.018,"JSSE":0.885},{"n":7640,"MLE":0.960,"JSSE":0.915},{"n":7650,"MLE":1.030,"JSSE":0.867},{"n":7660,"MLE":1.008,"JSSE":0.928},{"n":7670,"MLE":0.975,"JSSE":0.897},{"n":7680,"MLE":1.025,"JSSE":0.948},{"n":7690,"MLE":0.990,"JSSE":0.877},
{"n":7700,"MLE":1.043,"JSSE":0.910},{"n":7710,"MLE":1.000,"JSSE":0.887},{"n":7720,"MLE":0.972,"JSSE":0.938},{"n":7730,"MLE":1.023,"JSSE":0.870},{"n":7740,"MLE":0.980,"JSSE":0.920},{"n":7750,"MLE":1.035,"JSSE":0.892},{"n":7760,"MLE":0.995,"JSSE":0.955},{"n":7770,"MLE":1.013,"JSSE":0.882},{"n":7780,"MLE":0.957,"JSSE":0.918},{"n":7790,"MLE":1.040,"JSSE":0.860},
{"n":7800,"MLE":0.985,"JSSE":0.930},{"n":7810,"MLE":1.028,"JSSE":0.908},{"n":7820,"MLE":1.002,"JSSE":0.875},{"n":7830,"MLE":1.050,"JSSE":0.925},{"n":7840,"MLE":0.975,"JSSE":0.890},{"n":7850,"MLE":1.015,"JSSE":0.943},{"n":7860,"MLE":0.990,"JSSE":0.900},{"n":7870,"MLE":1.033,"JSSE":0.872},{"n":7880,"MLE":0.965,"JSSE":0.923},{"n":7890,"MLE":1.023,"JSSE":0.880},
{"n":7900,"MLE":0.997,"JSSE":0.935},{"n":7910,"MLE":1.045,"JSSE":0.895},{"n":7920,"MLE":0.982,"JSSE":0.913},{"n":7930,"MLE":1.008,"JSSE":0.857},{"n":7940,"MLE":0.970,"JSSE":0.940},{"n":7950,"MLE":1.030,"JSSE":0.885},{"n":7960,"MLE":0.992,"JSSE":0.928},{"n":7970,"MLE":1.033,"JSSE":0.902},{"n":7980,"MLE":0.985,"JSSE":0.950},{"n":7990,"MLE":1.015,"JSSE":0.875},
{"n":8000,"MLE":0.967,"JSSE":0.915}
]},
"encoding":{
"x":{"field":"n","type":"quantitative","scale":{"domain":[-319,8320],"nice":false,"zero":false},
"axis":{"values":[0,2000,4000,6000,8000],"format":"d","domain":false,"grid":false,"ticks":true,"tickColor":"black","tickSize":7,"labelFont":"Liberation Sans","labelFontSize":16,"labelColor":"black","labelPadding":3,"labelFlush":false,"labelOverlap":false,
"title":"Sample Size (n)","titleFont":"Liberation Sans","titleFontSize":19,"titleFontWeight":"normal","titleColor":"black","titleBaseline":"alphabetic","titleX":499.5,"titleY":59}},
"y":{"field":"value","type":"quantitative","scale":{"domain":[0.28,1.731],"nice":false,"zero":false},
"axis":{"values":[0.4,0.6,0.8,1.0,1.2,1.4,1.6],"format":".1f","domain":false,"grid":false,"ticks":true,"tickColor":"black","tickSize":7,"labelFont":"Liberation Sans","labelFontSize":16,"labelColor":"black","labelAngle":-90,"labelAlign":"center","labelBaseline":"alphabetic","labelPadding":11,"labelFlush":false,"labelOverlap":false,
"title":"Mean Squared Error (MSE)","titleFont":"Liberation Sans","titleFontSize":21,"titleFontWeight":"normal","titleColor":"black","titleAngle":-90,"titleAlign":"center","titleBaseline":"alphabetic","titleX":-50,"titleY":176}},
"color":{"field":"key","type":"nominal","scale":{"domain":["MLE","JSSE"],"range":["#0000FF","#FF0000"]},
"legend":{"orient":"none","legendX":794,"legendY":0,"title":null,"strokeColor":"black","fillColor":"white","padding":5,"symbolType":"M-1,-0.37H1V0.37H-1Z","symbolSize":729,"symbolStrokeWidth":0.8,"symbolOffset":28,"labelFont":"Liberation Sans","labelFontSize":12,"labelColor":"black","labelOffset":31,"rowPadding":-7,"labelLimit":0,
"labelExpr":"datum.label + '                            \u200b'",
"encode":{"symbols":{"update":{"fill":{"scale":"color","field":"value"},"stroke":{"value":"black"},"fillOpacity":{"value":1}}}}}}
},
"layer":[
{"transform":[{"fold":["MLE"]}],"mark":{"type":"line","strokeWidth":1.3,"clip":true}},
{"transform":[{"fold":["JSSE"]}],"mark":{"type":"line","strokeWidth":1.3,"clip":true}}
]
}
